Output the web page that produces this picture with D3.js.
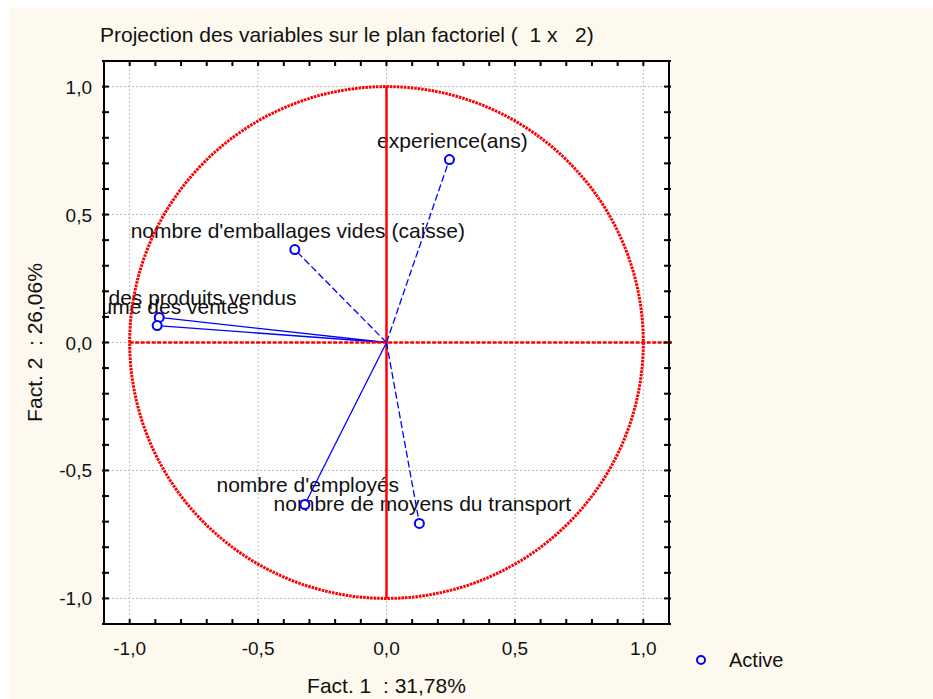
<!DOCTYPE html>
<html>
<head>
<meta charset="utf-8">
<script src="https://cdn.jsdelivr.net/npm/d3@7"></script>
<style>
  body { margin: 0; background: #fff; }
  svg text { font-family: "Liberation Sans", Arial, sans-serif; fill: #111; white-space: pre; }
</style>
</head>
<body>
<div id="chart"></div>
<script>
// variables projected on the first factorial plane (Fact. 1 x Fact. 2)
var variables = ["experience(ans)", "nombre d'emballages vides (caisse)", "quantité des produits vendus",
                 "Volume des ventes", "nombre d'employés", "nombre de moyens du transport"];
var fact1 = [0.245, -0.357, -0.885, -0.893, -0.318, 0.128];
var fact2 = [0.715, 0.363, 0.098, 0.066, -0.633, -0.707];
var majorTicks = [-1, -0.5, 0, 0.5, 1];
var tickLabels = ["-1,0", "-0,5", "0,0", "0,5", "1,0"];
var title = "Projection des variables sur le plan factoriel (  1 x   2)";
var xTitle = "Fact. 1  : 31,78%";
var yTitle = "Fact. 2  : 26,06%";
var legendLabel = "Active";

var width = 933, height = 699;
var frame = {left: 104, right: 669, top: 61, bottom: 624};

// which variables get a dashed vector (as in the original output)
var dashed = {"experience(ans)": true, "nombre d'emballages vides (caisse)": true, "nombre de moyens du transport": true};

var svg = d3.select("#chart").append("svg")
    .attr("width", width)
    .attr("height", height);

// cream page
svg.append("rect")
    .attr("x", 10).attr("y", 8)
    .attr("width", width - 10).attr("height", height - 8)
    .attr("fill", "#fdf9ee");

var x = d3.scaleLinear().domain([-1.1, 1.1]).range([frame.left, frame.right]);
var y = d3.scaleLinear().domain([-1.1, 1.1]).range([frame.bottom, frame.top]);

svg.append("clipPath").attr("id", "plotclip")
  .append("rect")
    .attr("x", frame.left).attr("y", frame.top)
    .attr("width", frame.right - frame.left).attr("height", frame.bottom - frame.top);

svg.append("rect")
    .attr("x", frame.left).attr("y", frame.top)
    .attr("width", frame.right - frame.left).attr("height", frame.bottom - frame.top)
    .attr("fill", "#fff");

var plot = svg.append("g").attr("clip-path", "url(#plotclip)");

// dotted grid at the major ticks
plot.selectAll("line.gx").data(majorTicks).enter().append("line")
    .attr("x1", function(d) { return x(d); }).attr("x2", function(d) { return x(d); })
    .attr("y1", frame.top).attr("y2", frame.bottom)
    .attr("stroke", "#bdbdbd").attr("stroke-width", 1).attr("stroke-dasharray", "2,2");
plot.selectAll("line.gy").data(majorTicks).enter().append("line")
    .attr("y1", function(d) { return y(d); }).attr("y2", function(d) { return y(d); })
    .attr("x1", frame.left).attr("x2", frame.right)
    .attr("stroke", "#bdbdbd").attr("stroke-width", 1).attr("stroke-dasharray", "2,2");

var pts = variables.map(function(v, i) { return {name: v, f1: fact1[i], f2: fact2[i]}; });

// variable labels (clipped by the frame like the original)
plot.selectAll("text.lab").data(pts).enter().append("text")
    .attr("x", function(d) { return x(d.f1) + 3; })
    .attr("y", function(d) { return y(d.f2) - 12; })
    .attr("text-anchor", "middle")
    .style("font-size", "21px")
    .text(function(d) { return d.name; });

// correlation circle
plot.append("ellipse")
    .attr("cx", x(0)).attr("cy", y(0))
    .attr("rx", x(1) - x(0)).attr("ry", y(0) - y(1))
    .attr("fill", "none").attr("stroke", "#f00")
    .attr("stroke-width", 3).attr("stroke-dasharray", "2.5,1");

// red axes through the origin
plot.append("line")
    .attr("x1", x(0)).attr("x2", x(0)).attr("y1", y(1)).attr("y2", y(-1))
    .attr("stroke", "#f00").attr("stroke-width", 2.5);
svg.append("line")
    .attr("x1", x(-1)).attr("x2", x(1.1) + 3).attr("y1", y(0)).attr("y2", y(0))
    .attr("stroke", "#f00").attr("stroke-width", 2.5).attr("stroke-dasharray", "4,1.5");

// vectors
plot.selectAll("line.vec").data(pts).enter().append("line")
    .attr("x1", x(0)).attr("y1", y(0))
    .attr("x2", function(d) { return x(d.f1); })
    .attr("y2", function(d) { return y(d.f2); })
    .attr("stroke", "#00f").attr("stroke-width", 1.3)
    .attr("stroke-dasharray", function(d) { return dashed[d.name] ? "7,3" : null; });

plot.selectAll("circle.pt").data(pts).enter().append("circle")
    .attr("cx", function(d) { return x(d.f1); })
    .attr("cy", function(d) { return y(d.f2); })
    .attr("r", 4.5)
    .attr("fill", "#fff").attr("stroke", "#00f").attr("stroke-width", 2);

// frame and ticks
svg.append("rect")
    .attr("x", frame.left).attr("y", frame.top)
    .attr("width", frame.right - frame.left).attr("height", frame.bottom - frame.top)
    .attr("fill", "none").attr("stroke", "#000").attr("stroke-width", 2);

var minor = x.ticks(22);
var tk = svg.append("g").attr("stroke", "#000").attr("stroke-width", 2);
minor.forEach(function(t) {
  tk.append("line").attr("x1", x(t)).attr("x2", x(t)).attr("y1", frame.bottom).attr("y2", frame.bottom - 5);
  tk.append("line").attr("x1", x(t)).attr("x2", x(t)).attr("y1", frame.top).attr("y2", frame.top + 5);
  tk.append("line").attr("y1", y(t)).attr("y2", y(t)).attr("x1", frame.left - 2).attr("x2", frame.left + 5);
  tk.append("line").attr("y1", y(t)).attr("y2", y(t)).attr("x1", frame.right + 2).attr("x2", frame.right - 5);
});

svg.selectAll("text.xt").data(majorTicks).enter().append("text")
    .attr("x", function(d) { return x(d); })
    .attr("y", frame.bottom + 31)
    .attr("text-anchor", "middle")
    .style("font-size", "19px")
    .text(function(d, i) { return tickLabels[i]; });

svg.selectAll("text.yt").data(majorTicks).enter().append("text")
    .attr("x", frame.left - 12)
    .attr("y", function(d) { return y(d) + 7; })
    .attr("text-anchor", "end")
    .style("font-size", "19px")
    .text(function(d, i) { return tickLabels[i]; });

// titles
svg.append("text")
    .attr("x", 100).attr("y", 42)
    .style("font-size", "21px")
    .text(title);

svg.append("text")
    .attr("x", x(0)).attr("y", 693)
    .attr("text-anchor", "middle")
    .style("font-size", "21px")
    .text(xTitle);

svg.append("text")
    .attr("transform", "translate(42," + y(0) + ") rotate(-90)")
    .attr("text-anchor", "middle")
    .style("font-size", "21px")
    .text(yTitle);

// legend
svg.append("circle")
    .attr("cx", 701).attr("cy", 660).attr("r", 4)
    .attr("fill", "none").attr("stroke", "#00f").attr("stroke-width", 2);
svg.append("text")
    .attr("x", 729).attr("y", 667)
    .style("font-size", "20px")
    .text(legendLabel);
</script>
</body>
</html>
